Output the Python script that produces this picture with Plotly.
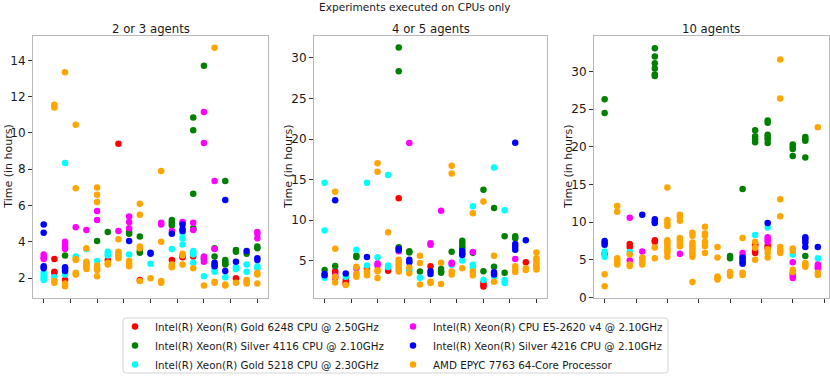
import plotly.graph_objects as go

# ---------------- data ----------------
CPU_NAMES = [
    "Intel(R) Xeon(R) Gold 6248 CPU @ 2.50GHz",
    "Intel(R) Xeon(R) Silver 4116 CPU @ 2.10GHz",
    "Intel(R) Xeon(R) Gold 5218 CPU @ 2.30GHz",
    "Intel(R) Xeon(R) CPU E5-2620 v4 @ 2.10GHz",
    "Intel(R) Xeon(R) Silver 4216 CPU @ 2.10GHz",
    "AMD EPYC 7763 64-Core Processor",
]
CPU_COLORS = ["red", "green", "cyan", "magenta", "blue", "orange"]

PANEL_TITLES = ["2 or 3 agents", "4 or 5 agents", "10 agents"]
FIG_TITLE = "Experiments executed on CPUs only"
Y_TITLE = "Time (in hours)"

# (experiment index, [times in hours]) per CPU, panel "2 or 3 agents"
P1_RED = [(1, [3.05, 2.35, 2.3]), (2, [1.9]), (6, [3.0]), (7, [9.4]), (9, [1.9]),
          (12, [3.0]), (13, [3.2, 3.15]), (14, [3.2]), (18, [2.0])]
P1_GREEN = [(2, [3.25]), (5, [4.05]), (6, [4.55]), (8, [4.55, 4.45]), (9, [4.3, 3.5, 3.4]),
            (12, [5.2, 5.1, 5.0, 4.9]), (14, [10.85, 10.15, 6.65, 4.75, 4.7]), (15, [13.7, 3.05]),
            (16, [3.65, 3.2]), (17, [7.35, 3.0, 2.9, 2.8, 2.75]), (18, [3.55, 3.45]), (19, [3.35]),
            (20, [3.75, 3.65])]
P1_CYAN = [(0, [2.3, 2.15, 2.0, 1.9]), (1, [2.05]), (2, [8.35, 2.2]), (3, [3.2]), (4, [3.6]),
           (5, [2.95]), (6, [3.45, 3.35, 3.25]), (8, [3.3]), (10, [2.8]), (12, [3.6]),
           (13, [4.5, 4.2, 3.85]), (14, [3.5, 3.4, 3.3, 2.85]), (15, [2.1]), (16, [2.6, 2.45, 2.35]),
           (17, [2.05]), (18, [2.6, 2.5]), (19, [2.75, 2.35]), (20, [2.65, 2.55])]
P1_MAGENTA = [(0, [3.3, 3.15, 3.05]), (2, [4.0, 3.85, 3.7, 3.6]), (3, [4.8]), (4, [4.65]),
              (5, [5.7, 5.2]), (7, [4.6]), (8, [5.4, 5.1, 4.75]), (11, [5.05, 4.95]), (12, [4.6]),
              (13, [5.1, 5.05]), (14, [5.05, 4.65]), (15, [11.15, 9.45, 3.2, 3.1, 2.9]),
              (16, [7.35, 3.6]), (20, [4.55, 4.45, 4.2])]
P1_BLUE = [(0, [4.95, 4.5, 2.65, 2.55]), (2, [2.6, 2.5, 2.4]), (8, [4.05]), (10, [3.4, 3.35]),
           (12, [4.45]), (13, [4.95, 4.7, 4.6]), (16, [2.85, 2.75, 2.65]), (17, [6.3, 2.4]),
           (18, [2.9]), (19, [3.5]), (20, [3.1, 3.0])]
P1_ORANGE = [(1, [11.55, 11.4, 1.85, 1.75]), (2, [13.35, 1.7, 1.55]),
             (3, [10.45, 6.95, 3.05, 3.0, 2.3, 2.2]), (4, [3.65, 2.9, 2.8, 2.7, 2.6, 2.5]),
             (5, [7.0, 6.6, 6.2, 2.7, 2.55, 2.45, 2.1]), (6, [2.85, 2.75]),
             (7, [4.15, 3.45, 3.35, 3.25, 3.1]), (8, [2.95, 2.8, 2.65]),
             (9, [6.1, 5.5, 3.75, 3.65, 1.85]), (10, [2.0]), (11, [7.9, 4.0, 1.85, 1.75]),
             (12, [2.75, 2.65, 2.6]), (13, [3.35, 3.25, 2.75]), (14, [2.55]), (15, [1.6]),
             (16, [14.7, 1.8, 1.75]), (17, [1.65, 1.6]), (18, [1.75]), (19, [1.9, 1.8, 1.7]),
             (20, [2.3, 2.2, 1.7])]

# panel "4 or 5 agents"
P2_RED = [(1, [3.7, 3.4, 2.9]), (2, [2.6, 2.3, 2.1]), (4, [4.0]), (6, [3.75]), (7, [12.7]),
          (10, [4.3]), (15, [2.3, 2.0, 1.8]), (19, [4.8])]
P2_GREEN = [(0, [3.85]), (1, [4.35]), (3, [5.6, 5.45]), (7, [31.3, 28.35, 6.65]), (8, [6.15, 6.0]),
            (9, [3.65]), (11, [3.95, 3.65, 3.5]), (12, [6.1]), (13, [7.45, 7.1, 6.75, 6.5]),
            (14, [5.95]), (15, [13.75, 3.7]), (16, [11.5, 4.25]), (17, [8.0, 3.5]), (18, [8.0, 7.75])]
P2_CYAN = [(0, [14.6, 8.7, 2.9]), (2, [3.0]), (3, [6.35]), (4, [14.6, 4.4]), (5, [5.4]),
           (6, [15.55, 4.4, 4.2]), (7, [4.5]), (8, [3.8]), (9, [2.9]), (12, [4.45]), (13, [5.0]),
           (14, [11.7, 4.5, 4.15]), (15, [2.6]), (16, [16.5, 3.05]), (17, [11.2, 2.6, 2.25])]
P2_MAGENTA = [(1, [3.1]), (3, [4.1]), (5, [4.65, 4.4]), (7, [6.15]), (8, [19.5]), (10, [7.15, 6.95]),
              (11, [11.15]), (12, [4.75, 4.6]), (14, [6.05]), (18, [5.2])]
P2_BLUE = [(0, [3.35, 3.2]), (1, [12.45]), (2, [3.4]), (4, [5.45]), (7, [6.45, 6.3]), (8, [5.1, 4.8]),
           (10, [3.7, 3.35]), (13, [6.2, 5.9, 5.7]), (16, [3.55, 3.3]), (18, [19.55, 7.05, 6.7, 6.35]),
           (19, [7.5])]
P2_ORANGE = [(1, [13.5, 6.45, 3.0, 2.3]), (2, [2.0]), (3, [4.25, 3.4, 3.2, 3.0]), (4, [3.7, 3.4, 3.2]),
             (5, [17.0, 15.95, 3.8, 3.7, 2.85]), (6, [8.5]), (7, [5.1, 4.8, 4.5, 4.2, 3.9, 3.65]),
             (8, [4.15, 3.45]), (9, [5.6, 4.7, 2.05]), (10, [2.4, 2.25]), (11, [4.75, 2.1]),
             (12, [16.7, 15.75, 3.65, 3.3]), (13, [4.05]), (14, [10.85, 3.65, 3.2]), (15, [12.3]),
             (16, [5.6, 2.4]), (18, [4.3, 3.9, 3.6]), (19, [4.05, 3.85]),
             (20, [6.0, 5.3, 5.0, 4.7, 4.4, 4.1, 3.9])]

# panel "10 agents"
P3_RED = [(0, [5.8]), (2, [7.1, 6.7]), (4, [7.6, 7.4]), (12, [7.1, 6.9, 6.2, 5.9]), (13, [6.9, 6.6])]
P3_GREEN = [(0, [26.3, 24.5]), (4, [33.1, 32.0, 31.1, 30.4, 29.6, 29.4]), (10, [5.5, 5.2]), (11, [14.4]),
            (12, [22.2, 21.4, 21.0, 20.6]), (13, [23.5, 23.2, 21.6, 21.3, 21.0, 20.5]),
            (15, [20.3, 20.0, 19.7, 18.8]), (16, [21.3, 21.0, 20.8, 18.6, 5.5])]
P3_CYAN = [(0, [6.1, 5.4]), (2, [6.05]), (12, [8.3]), (13, [9.3]), (15, [5.7]), (17, [5.2])]
P3_MAGENTA = [(2, [10.6, 4.9]), (3, [6.1]), (6, [5.8]), (11, [5.9, 5.5]), (13, [8.0, 7.7, 7.4]),
              (15, [4.7, 3.2, 2.9, 2.6]), (17, [4.4, 4.1, 3.9])]
P3_BLUE = [(0, [7.5, 7.25, 7.0]), (3, [11.0]), (4, [10.4, 10.1, 9.9]), (11, [5.3, 5.0, 4.7, 4.5]),
           (13, [9.9]), (16, [8.0, 7.7, 7.3, 6.7]), (17, [6.7])]
P3_ORANGE = [(0, [3.1, 1.5]), (1, [12.15, 11.4, 5.2, 5.0, 4.8, 4.6, 4.4]), (2, [5.7, 4.4, 4.2]),
             (3, [5.3, 5.0, 4.7, 4.4]), (4, [6.65, 5.2]),
             (5, [14.6, 10.3, 9.9, 9.5, 7.6, 7.3, 6.9, 6.5, 6.2, 5.9, 5.4]),
             (6, [11.0, 10.7, 10.2, 7.9, 7.6, 7.3, 7.0, 6.8]),
             (7, [8.6, 8.2, 7.3, 7.0, 6.7, 6.4, 6.0, 5.7, 5.4, 2.05]),
             (8, [9.4, 8.5, 8.2, 7.4, 7.0, 6.8, 5.9]), (9, [6.7, 5.3, 2.8, 2.6, 2.4]),
             (10, [3.4, 3.1, 2.9]), (11, [7.9, 3.3, 3.0]), (12, [7.4, 6.6, 5.0]), (13, [6.4, 5.9, 5.3]),
             (14, [31.6, 26.4, 13.05, 10.8, 6.7, 6.4, 6.1, 5.9]), (15, [6.5, 6.2, 3.7, 3.4]),
             (16, [4.6, 4.4, 4.1]), (17, [22.6, 3.3, 3.0])]

PANELS = [
    [P1_RED, P1_GREEN, P1_CYAN, P1_MAGENTA, P1_BLUE, P1_ORANGE],
    [P2_RED, P2_GREEN, P2_CYAN, P2_MAGENTA, P2_BLUE, P2_ORANGE],
    [P3_RED, P3_GREEN, P3_CYAN, P3_MAGENTA, P3_BLUE, P3_ORANGE],
]
Y_TICKS = [[2, 4, 6, 8, 10, 12, 14], [5, 10, 15, 20, 25, 30], [0, 5, 10, 15, 20, 25, 30]]

# ---------------- layout ----------------
W, H = 830, 376
FONT = "DejaVu Sans"
TXT = "#1a1a1a"
X_DOMAINS = [(33, 268), (314, 547), (594, 828.5)]   # px
Y_TOP, Y_BOT = 35.7, 298.3                             # px
Y_RANGES = [[0.89, 15.36], [0.35, 32.75], [-0.1, 34.75]]
X_RANGES = [[-1, 21], [-1, 21], [-0.85, 17.85]]
X_TICKS = [[0, 2.5, 5, 7.5, 10, 12.5, 15, 17.5, 20]] * 2 + [[0, 2.5, 5, 7.5, 10, 12.5, 15, 17.5]]
Y_TITLE_X = [7.7, 288, 568]
LEGEND_BOX = (123, 318, 668, 373)   # px: left, top, right, bottom


def expand(pairs):
    xs, ys = [], []
    for col, vals in pairs:
        for v in vals:
            xs.append(col)
            ys.append(v)
    return xs, ys


fig = go.Figure()
for p, series in enumerate(PANELS):
    ax = "" if p == 0 else str(p + 1)
    for i, pairs in enumerate(series):
        xs, ys = expand(pairs)
        fig.add_trace(go.Scatter(
            x=xs, y=ys, mode="markers",
            xaxis="x" + ax, yaxis="y" + ax,
            name=CPU_NAMES[i], legendgroup=CPU_NAMES[i],
            legend="legend" if i < 3 else "legend2",
            showlegend=(p == 0),
            marker=dict(color=CPU_COLORS[i], size=6.5, line=dict(width=0)),
            hoverinfo="skip",
        ))

leg_common = dict(
    orientation="v", xanchor="left", yanchor="top",
    font=dict(family=FONT, size=10.3, color=TXT),
    bgcolor="rgba(0,0,0,0)", borderwidth=0,
    traceorder="normal", tracegroupgap=0,
)
layout = dict(
    template="none",
    width=W, height=H,
    margin=dict(l=0, r=0, t=0, b=0, pad=0, autoexpand=False),
    paper_bgcolor="white", plot_bgcolor="white",
    font=dict(family=FONT, size=12, color=TXT),
    showlegend=True,
    legend=dict(x=115 / W, y=1 - 312 / H, **leg_common),
    legend2=dict(x=393 / W, y=1 - 312 / H, **leg_common),
)
for p in range(3):
    ax = "" if p == 0 else str(p + 1)
    x0, x1 = X_DOMAINS[p]
    layout["xaxis" + ax] = dict(
        domain=[x0 / W, x1 / W], range=X_RANGES[p], anchor="y" + ax, automargin=False,
        tickmode="array", tickvals=X_TICKS[p], showticklabels=False,
        ticks="outside", ticklen=3.5, tickwidth=1, tickcolor="#333333",
        showline=True, linecolor="#b8b8b8", linewidth=1, mirror=True,
        showgrid=False, zeroline=False,
    )
    layout["yaxis" + ax] = dict(
        domain=[1 - Y_BOT / H, 1 - Y_TOP / H], range=Y_RANGES[p], anchor="x" + ax, automargin=False,
        tickmode="array", tickvals=Y_TICKS[p],
        ticks="outside", ticklen=4, tickwidth=1, tickcolor="#333333",
        tickfont=dict(family=FONT, size=12, color=TXT),
        showline=True, linecolor="#b8b8b8", linewidth=1, mirror=True,
        showgrid=False, zeroline=False,
    )
fig.update_layout(**layout)

# legend frame (rounded rectangle, paper coordinates)
bl, bt, br, bb = LEGEND_BOX
r = 3


def px(x):
    return x / W


def py(y):
    return 1 - y / H


path = (f"M {px(bl + r)} {py(bt)} L {px(br - r)} {py(bt)} Q {px(br)} {py(bt)} {px(br)} {py(bt + r)} "
        f"L {px(br)} {py(bb - r)} Q {px(br)} {py(bb)} {px(br - r)} {py(bb)} "
        f"L {px(bl + r)} {py(bb)} Q {px(bl)} {py(bb)} {px(bl)} {py(bb - r)} "
        f"L {px(bl)} {py(bt + r)} Q {px(bl)} {py(bt)} {px(bl + r)} {py(bt)} Z")
fig.add_shape(type="path", path=path, xref="paper", yref="paper",
              line=dict(color="#d5d5d5", width=1), fillcolor="white", layer="below")

annotations = [dict(text=FIG_TITLE, x=0.5, y=1 - 7 / H, xref="paper", yref="paper",
                    xanchor="center", yanchor="middle", showarrow=False,
                    font=dict(family=FONT, size=10.6, color=TXT))]
for p in range(3):
    x0, x1 = X_DOMAINS[p]
    annotations.append(dict(text=PANEL_TITLES[p], x=(x0 + x1) / 2 / W, y=1 - 29.3 / H,
                            xref="paper", yref="paper", xanchor="center", yanchor="middle",
                            showarrow=False, font=dict(family=FONT, size=11.7, color=TXT)))
    annotations.append(dict(text=Y_TITLE, x=Y_TITLE_X[p] / W, y=1 - 167 / H,
                            xref="paper", yref="paper", xanchor="center", yanchor="middle",
                            textangle=-90, showarrow=False,
                            font=dict(family=FONT, size=11, color=TXT)))
fig.update_layout(annotations=annotations)

fig.write_html(
    "out.html",
    config={"displayModeBar": False, "staticPlot": True},
    post_script="document.body.style.margin='0px';document.body.style.padding='0px';",
)
